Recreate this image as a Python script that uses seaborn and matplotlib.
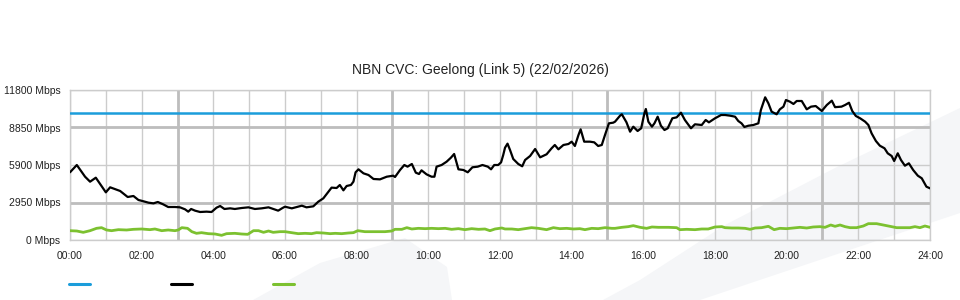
import numpy as np
import pandas as pd
import matplotlib
matplotlib.use("Agg")
import matplotlib.pyplot as plt
import seaborn as sns
from matplotlib.patches import Polygon
from matplotlib.lines import Line2D

# ---- data (hours since midnight, Mbps) ----
traffic_hours = [0.0, 0.19, 0.42, 0.56, 0.72, 1.0, 1.12, 1.40, 1.61, 1.77, 1.91, 2.02, 2.19, 2.33,
                 2.45, 2.60, 2.74, 2.93, 3.07, 3.21, 3.30, 3.38, 3.49, 3.63, 3.81, 3.95, 4.09, 4.19,
                 4.31, 4.47, 4.60, 4.79, 4.98, 5.16, 5.35, 5.54, 5.67, 5.81, 5.93, 6.0, 6.19, 6.33,
                 6.47, 6.60, 6.79, 6.93, 7.07, 7.19, 7.30, 7.44, 7.53, 7.63, 7.72, 7.84, 7.91, 7.97,
                 8.05, 8.19, 8.33, 8.47, 8.65, 8.84, 9.02, 9.07, 9.21, 9.33, 9.42, 9.54, 9.65, 9.74,
                 9.81, 9.95, 10.09, 10.17, 10.23, 10.37, 10.51, 10.63, 10.72, 10.84, 10.98, 11.10,
                 11.23, 11.38, 11.51, 11.66, 11.75, 11.84, 11.95, 12.03, 12.09, 12.14, 12.21, 12.28,
                 12.37, 12.51, 12.62, 12.70, 12.84, 12.98, 13.12, 13.30, 13.44, 13.53, 13.63, 13.77,
                 13.91, 14.00, 14.09, 14.19, 14.25, 14.35, 14.51, 14.63, 14.74, 14.84, 14.93, 15.04,
                 15.16, 15.21, 15.35, 15.40, 15.53, 15.63, 15.72, 15.84, 15.94, 16.03, 16.07, 16.14,
                 16.24, 16.31, 16.40, 16.49, 16.59, 16.68, 16.81, 16.93, 17.05, 17.16, 17.33, 17.44,
                 17.63, 17.74, 17.83, 18.00, 18.17, 18.28, 18.42, 18.56, 18.65, 18.74, 18.82, 18.93,
                 19.07, 19.21, 19.28, 19.40, 19.49, 19.58, 19.72, 19.81, 19.91, 19.98, 20.09, 20.19,
                 20.28, 20.42, 20.56, 20.68, 20.81, 20.98, 21.12, 21.26, 21.35, 21.53, 21.63, 21.74,
                 21.83, 21.93, 22.05, 22.19, 22.28, 22.37, 22.49, 22.60, 22.73, 22.82, 22.93, 23.00,
                 23.10, 23.19, 23.30, 23.41, 23.53, 23.66, 23.77, 23.90, 24.0]
traffic_mbps = [5326, 5900, 4980, 4587, 4902, 3750, 4145, 3855, 3383, 3462, 3147, 3068, 2936, 2884,
                2990, 2806, 2596, 2596, 2570, 2413, 2230, 2440, 2308, 2203, 2230, 2203, 2544, 2675,
                2440, 2491, 2440, 2517, 2570, 2440, 2491, 2570, 2440, 2308, 2517, 2620, 2491, 2596,
                2700, 2570, 2649, 3016, 3278, 3724, 4120, 4090, 4327, 3907, 4248, 4327, 4590, 5326,
                5560, 5245, 5113, 4800, 4770, 4980, 5060, 4956, 5507, 5900, 5770, 5980, 5297, 5192,
                5480, 5166, 4980, 4980, 5770, 5900, 6160, 6475, 6766, 5560, 5507, 5326,
                5720, 5770, 5900, 5770, 5560, 5900, 5900, 6110, 6687, 7260, 7580, 7080,
                6372, 5980, 5797, 6294, 6608, 7160, 6503, 6742, 7214, 7474, 7134, 7474,
                7552, 7735, 7395, 8260, 8706, 7735, 7735, 7683, 7395, 7474, 8260, 9178,
                9230, 9308, 9780, 9890, 9256, 8520, 8915, 8575, 8787, 9967, 10306, 9308,
                8915, 9178, 9700, 8992, 8653, 8787, 9574, 9650, 10015, 9440, 8787, 9102,
                9047, 9440, 9256, 9574, 9833, 9833, 9780, 9700, 9360, 9178, 8890, 8990,
                9047, 9178, 10227, 11225, 10752, 10095, 9890, 10280, 10490, 11013, 10882, 10700,
                10935, 10935, 10280, 10490, 10540, 10150, 10620, 10960, 10450, 10490, 10620, 10800,
                10150, 9757, 9574, 9308, 9047, 8393, 7788, 7420, 7214, 6820, 6608, 6215,
                6820, 6294, 5845, 6034, 5507, 5060, 4855, 4195, 4065]

upload_hours = [0.0, 0.19, 0.37, 0.56, 0.74, 0.88, 1.02, 1.16, 1.35, 1.58, 1.77, 2.0, 2.23, 2.37,
                2.56, 2.74, 2.93, 3.02, 3.12, 3.28, 3.40, 3.53, 3.67, 3.86, 4.05, 4.23, 4.37, 4.60,
                4.79, 4.96, 5.12, 5.26, 5.40, 5.54, 5.67, 5.86, 6.0, 6.19, 6.37, 6.56, 6.74, 6.88,
                7.07, 7.26, 7.40, 7.58, 7.77, 7.91, 8.03, 8.23, 8.51, 8.79, 8.98, 9.07, 9.26, 9.40,
                9.54, 9.72, 9.91, 10.09, 10.28, 10.47, 10.65, 10.84, 11.02, 11.21, 11.40, 11.58,
                11.72, 11.86, 12.05, 12.14, 12.33, 12.51, 12.70, 12.88, 13.07, 13.30, 13.49, 13.67,
                13.86, 14.05, 14.23, 14.37, 14.56, 14.74, 14.93, 15.12, 15.21, 15.40, 15.58, 15.72,
                15.91, 16.09, 16.24, 16.42, 16.70, 16.93, 17.02, 17.21, 17.44, 17.63, 17.81, 18.0,
                18.19, 18.28, 18.47, 18.65, 18.84, 18.98, 19.12, 19.30, 19.49, 19.65, 19.81, 20.0,
                20.19, 20.37, 20.56, 20.74, 20.93, 21.07, 21.23, 21.35, 21.49, 21.63, 21.77, 21.95,
                22.14, 22.28, 22.51, 22.70, 22.88, 23.07, 23.26, 23.44, 23.58, 23.72, 23.86, 24.0]
upload_mbps = [733, 707, 603, 733, 918, 970, 787, 733, 813, 787, 840, 866, 813, 866,
               733, 787, 733, 787, 970, 918, 655, 525, 577, 498, 472, 367, 498, 525,
               472, 446, 733, 733, 603, 707, 603, 655, 655, 577, 498, 525, 498, 577,
               551, 498, 525, 498, 551, 577, 733, 655, 655, 655, 707, 840, 840, 970,
               866, 918, 892, 918, 892, 918, 840, 892, 813, 892, 840, 866,
               733, 866, 944, 866, 866, 813, 892, 970, 918, 813, 970, 892,
               918, 866, 892, 813, 918, 892, 970, 918, 918, 997, 1050, 1128,
               997, 918, 1023, 997, 997, 970, 813, 840, 813, 866, 866, 1023,
               1050, 970, 944, 944, 918, 840, 944, 970, 1076, 813, 918, 892,
               944, 997, 944, 1023, 1050, 997, 1180, 1076, 1180, 1050, 970, 970,
               1102, 1285, 1285, 1180, 1076, 970, 970, 970, 1050, 970, 1102, 997]

capacity_hours = [0, 24]
capacity_mbps = [10000, 10000]

y_ticks = [0, 2950, 5900, 8850, 11800]
y_tick_labels = ["0 Mbps", "2950 Mbps", "5900 Mbps", "8850 Mbps", "11800 Mbps"]
hour_ticks = list(range(0, 25))
hour_labels = [f"{h:02d}:00" if h % 2 == 0 else "" for h in hour_ticks]
title = "NBN CVC: Geelong (Link 5) (22/02/2026)"

BLUE = "#1b9ddb"
BLACK = "#000000"
GREEN = "#7cc130"
LIGHT = "#cccccc"
DARK = "#bdbdbd"
SHAPE = "#f5f6f8"

sns.set_style("white")
plt.rcParams["font.family"] = ["Liberation Sans", "DejaVu Sans"]

fig = plt.figure(figsize=(9.6, 3.0), dpi=100)
W, H = 960, 300

def fpt(x, y):
    return (x / W, 1 - y / H)

# background decorative shapes
for pts in ([(253, 300), (320, 263), (405, 238), (447, 267), (452, 300)],
            [(603, 300), (640, 280), (725, 225), (835, 168), (960, 108), (960, 213), (700, 300)]):
    fig.patches.append(Polygon([fpt(*p) for p in pts], closed=True, transform=fig.transFigure,
                               facecolor=SHAPE, edgecolor="none", zorder=-10))

ax = fig.add_axes([70 / W, 1 - 240 / H, 860 / W, 150 / H])
ax.set_zorder(5)
ax.patch.set_alpha(0)

df_t = pd.DataFrame({"hour": traffic_hours, "mbps": traffic_mbps})
df_u = pd.DataFrame({"hour": upload_hours, "mbps": upload_mbps})
df_c = pd.DataFrame({"hour": capacity_hours, "mbps": capacity_mbps})

sns.lineplot(data=df_c, x="hour", y="mbps", ax=ax, color=BLUE, lw=1.8, zorder=4)
sns.lineplot(data=df_u, x="hour", y="mbps", ax=ax, color=GREEN, lw=2.0, zorder=4)
sns.lineplot(data=df_t, x="hour", y="mbps", ax=ax, color=BLACK, lw=1.6, zorder=5)

ax.set_xlim(0, 24)
ax.set_ylim(0, 11800)
ax.set_xticks(hour_ticks)
ax.set_xticklabels(hour_labels)
ax.set_yticks(y_ticks)
ax.set_yticklabels(y_tick_labels)
ax.set_xlabel("")
ax.set_ylabel("")

ax.grid(True, color=LIGHT, lw=1.0, zorder=1)
ax.set_axisbelow(True)
for v in (2950, 8850):
    ax.axhline(v, color=DARK, lw=2.0, zorder=2)
for h in (3, 9, 15, 21):
    ax.axvline(h, color=DARK, lw=2.0, zorder=2)

for s in ax.spines.values():
    s.set_color(LIGHT)
    s.set_linewidth(1.0)

ax.tick_params(axis="x", length=6.5, width=1.0, color=LIGHT, pad=1.5, labelsize=7.5, labelcolor="#222222")
ax.tick_params(axis="y", length=0, pad=7, labelsize=7.5, labelcolor="#222222")

fig.text(480 / W, 1 - 70 / H, title, fontsize=10, color="#222222", ha="center", va="center")

handles = [Line2D([], [], color=BLUE, lw=2.2),
           Line2D([], [], color=BLACK, lw=2.2),
           Line2D([], [], color=GREEN, lw=2.2)]
fig.legend(handles, ["", "", ""], ncol=3, loc="center left", bbox_to_anchor=(69 / W, 1 - 285 / H),
           frameon=False, handlelength=2.0, handletextpad=0.0, columnspacing=7.8, fontsize=7.5,
           borderaxespad=0, borderpad=0)

fig.savefig("out.png", dpi=100)
